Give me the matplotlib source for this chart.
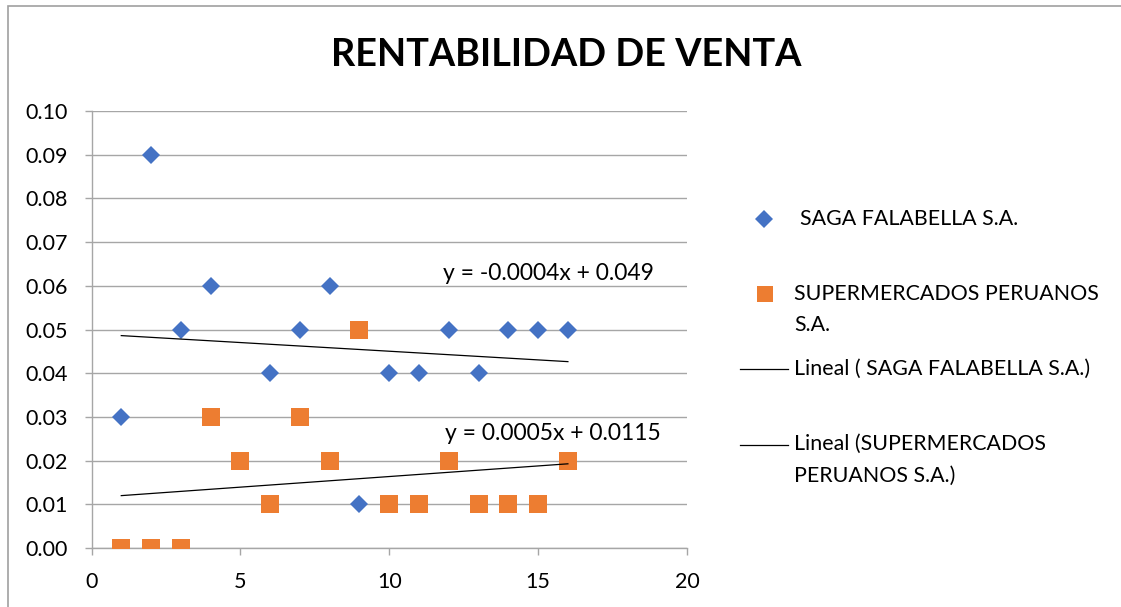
import numpy as np
import matplotlib
matplotlib.use("Agg")
import matplotlib.pyplot as plt
from matplotlib.lines import Line2D
from matplotlib.patches import Rectangle

plt.rcParams['font.family'] = ['Lato', 'DejaVu Sans']

x_vals = [1, 2, 3, 4, 5, 6, 7, 8, 9, 10, 11, 12, 13, 14, 15, 16]
saga = [0.03, 0.09, 0.05, 0.06, 0.02, 0.04, 0.05, 0.06, 0.01, 0.04, 0.04, 0.05, 0.04, 0.05, 0.05, 0.05]
super_pe = [0.00, 0.00, 0.00, 0.03, 0.02, 0.01, 0.03, 0.02, 0.05, 0.01, 0.01, 0.02, 0.01, 0.01, 0.01, 0.02]
y_ticks = [0.00, 0.01, 0.02, 0.03, 0.04, 0.05, 0.06, 0.07, 0.08, 0.09, 0.10]
x_ticks = [0, 5, 10, 15, 20]
title = "RENTABILIDAD DE VENTA"
name_saga = "SAGA FALABELLA S.A."
name_super = "SUPERMERCADOS PERUANOS S.A."
eq_saga = "y = -0.0004x + 0.049"
eq_super = "y = 0.0005x + 0.0115"

BLUE = '#4472C4'
ORANGE = '#ED7D31'
GRID = '#A6A6A6'

W, H = 1121, 607
fig = plt.figure(figsize=(W / 100, H / 100), dpi=100)

def fx(px):
    return px / W

def fy(py):
    return 1 - py / H

# chart border (only left/top visible)
fig.patches.append(Rectangle((fx(8), fy(640)), fx(1200), fy(6) - fy(640),
                             transform=fig.transFigure, fill=False,
                             edgecolor='#A0A0A0', linewidth=1.2))

ax = fig.add_axes([fx(91.5), fy(548), fx(687) - fx(91.5), fy(111) - fy(548)])
ax.set_xlim(0, 20)
ax.set_ylim(0, 0.10)
ax.set_xticks(x_ticks)
ax.set_yticks(y_ticks)
ax.set_yticklabels([f"{v:.2f}" for v in y_ticks])
ax.set_xticklabels([str(v) for v in x_ticks])
ax.grid(axis='y', color=GRID, linewidth=1.0)
ax.set_axisbelow(True)
for s in ['top', 'right']:
    ax.spines[s].set_visible(False)
for s in ['left', 'bottom']:
    ax.spines[s].set_color(GRID)
    ax.spines[s].set_linewidth(1.0)
ax.tick_params(axis='both', colors=GRID, labelcolor='black', labelsize=15.5,
               length=5, width=1.0)
ax.tick_params(axis='y', pad=12)
ax.tick_params(axis='x', pad=12)

xa = np.array(x_vals, dtype=float)
ax.plot(x_vals, saga, linestyle='none', marker='D', markersize=9.5,
        color=BLUE, markeredgewidth=0, zorder=3)
ax.plot(x_vals, super_pe, linestyle='none', marker='s', markersize=13.5,
        color=ORANGE, markeredgewidth=0, zorder=4)

# linear trendlines
p1 = np.polyfit(xa, saga, 1)
p2 = np.polyfit(xa, super_pe, 1)
xx = np.array([xa.min(), xa.max()])
ax.plot(xx, np.polyval(p1, xx), color='black', linewidth=0.9, zorder=5)
ax.plot(xx, np.polyval(p2, xx), color='black', linewidth=0.9, zorder=5)

ax.text(15.33, 0.0629, eq_saga, ha='center', va='center', fontsize=16.5, zorder=6)
ax.text(15.5, 0.0263, eq_super, ha='center', va='center', fontsize=16.5, zorder=6)

fig.text(fx(566), fy(55), title, ha='center', va='center', fontsize=27.3,
         fontweight='bold')

LFS = 15.4
# legend (drawn manually to match layout)
fig.add_artist(Line2D([fx(764)], [fy(219)], marker='D', markersize=9.5,
                      color=BLUE, markeredgewidth=0, linestyle='none'))
fig.text(fx(800), fy(219), name_saga, ha='left', va='center', fontsize=LFS)
fig.add_artist(Line2D([fx(765)], [fy(294)], marker='s', markersize=12,
                      color=ORANGE, markeredgewidth=0, linestyle='none'))
fig.text(fx(794), fy(294), "SUPERMERCADOS PERUANOS", ha='left', va='center', fontsize=LFS)
fig.text(fx(794), fy(325), "S.A.", ha='left', va='center', fontsize=LFS)
fig.add_artist(Line2D([fx(740), fx(788)], [fy(369), fy(369)], color='black', linewidth=0.9))
fig.text(fx(794), fy(369), "Lineal ( " + name_saga + ")", ha='left', va='center', fontsize=LFS)
fig.add_artist(Line2D([fx(740), fx(788)], [fy(445), fy(445)], color='black', linewidth=0.9))
fig.text(fx(794), fy(444), "Lineal (SUPERMERCADOS", ha='left', va='center', fontsize=LFS)
fig.text(fx(794), fy(476), "PERUANOS S.A.)", ha='left', va='center', fontsize=LFS)

fig.savefig("out.png", dpi=100)
